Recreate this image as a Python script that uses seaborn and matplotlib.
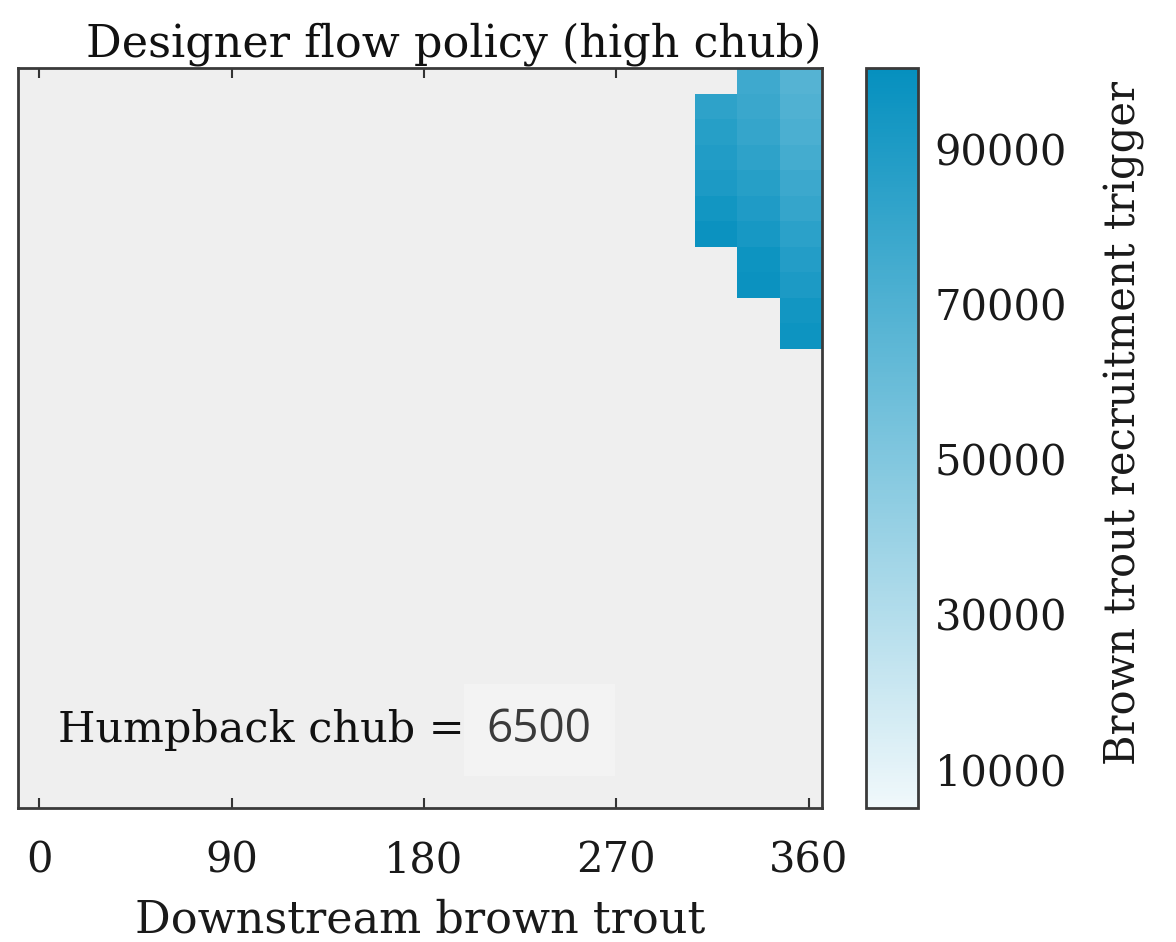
import numpy as np
import pandas as pd
import matplotlib
matplotlib.use("Agg")
import matplotlib.pyplot as plt
from matplotlib.colors import LinearSegmentedColormap
import seaborn as sns

# column centres (day of year) of the policy grid
day_centers = [0, 19.8, 39.6, 59.4, 79.2, 99.0, 118.8, 138.6, 158.4, 178.2,
               198.0, 217.8, 237.6, 257.4, 277.2, 297.0, 316.8, 336.6, 356.4]
n_rows = 29

# trigger values in the three right-most columns, listed from the top row down
col_317_start = 1
col_317 = [84000, 87000, 89000, 91000, 95000, 98000]
col_337_start = 0
col_337 = [77000, 79000, 81000, 84000, 87000, 90000, 93000, 97000, 98000]
col_356_start = 0
col_356 = [68000, 70000, 72000, 75000, 78000, 81000, 85000, 88000, 91000, 95000, 97000]

x_ticks = [0, 90, 180, 270, 360]
cbar_ticks = [10000, 30000, 50000, 70000, 90000]
chub_value = "6500"

grid = pd.DataFrame(np.nan, index=range(n_rows), columns=day_centers)
for day, start, vals in [(316.8, col_317_start, col_317),
                         (336.6, col_337_start, col_337),
                         (356.4, col_356_start, col_356)]:
    grid.loc[start:start + len(vals) - 1, day] = vals

sns.set_theme(style="white")
plt.rcParams["font.family"] = ["DejaVu Serif"]

cmap = LinearSegmentedColormap.from_list("blu", ["#f0f8fb", "#0590bf"])

fig = plt.figure(figsize=(11.76, 9.42), dpi=100)
W, H = 1176, 942
ax = fig.add_axes([18 / W, 1 - 808 / H, 804 / W, 740 / H])
cax = fig.add_axes([866 / W, 1 - 808 / H, 52 / W, 740 / H])

sns.heatmap(grid, ax=ax, cbar_ax=cax, cmap=cmap, vmin=5000, vmax=100500,
            xticklabels=False, yticklabels=False)
ax.set_facecolor("#efefef")

# x ticks placed in heatmap cell coordinates
step = day_centers[1] - day_centers[0]
tick_pos = [0.5 + (v - day_centers[0]) / step for v in x_ticks]
ax.set_xticks(tick_pos)
ax.set_xticklabels([str(v) for v in x_ticks], fontsize=30, color="#1a1a1a")
ax.set_yticks([])
ax.tick_params(axis="x", direction="in", length=7, width=1.5, color="#333333",
               top=True, bottom=True, pad=23)
for s in ax.spines.values():
    s.set_visible(True)
    s.set_linewidth(2)
    s.set_color("#3a3a3a")

ax.set_xlabel("Downstream brown trout", fontsize=32, color="#1a1a1a", labelpad=12)
ax.set_ylabel("")
ax.set_title("Designer flow policy (high chub)", fontsize=32, color="#111111",
             loc="right", pad=8)

ax.text(0.05, 0.105, "Humpback chub = ", transform=ax.transAxes, fontsize=31,
        va="center", ha="left", color="#111111")
ax.text(0.583, 0.105, chub_value, transform=ax.transAxes, fontsize=33,
        va="center", ha="left", color="#3a3a3a", family=["Open Sans", "DejaVu Sans"],
        bbox=dict(boxstyle="square,pad=0.5", fc="#f3f3f3", ec="none"))

cb = ax.collections[0].colorbar
cb.set_ticks(cbar_ticks)
cb.ax.tick_params(labelsize=30, direction="in", length=7, width=1.5,
                  color="#333333", pad=12, labelcolor="#1a1a1a")
cb.outline.set_linewidth(2)
cb.outline.set_edgecolor("#3a3a3a")
cb.set_label("Brown trout recruitment trigger", fontsize=30, color="#1a1a1a",
             labelpad=26)
cb.ax.yaxis.label.set_y(0.52)

fig.savefig("out.png", dpi=100)
